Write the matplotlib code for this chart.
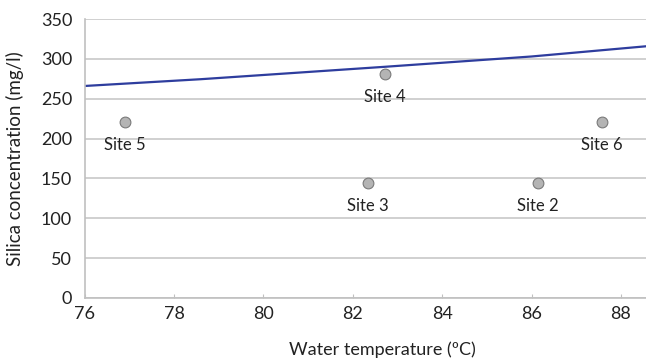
import numpy as np
import matplotlib
matplotlib.use('Agg')
import matplotlib.pyplot as plt

plt.rcParams['font.family'] = ['Lato', 'DejaVu Sans']

# solubility line
line_temp = [76, 78.6, 82.7, 86.0, 88.6]
line_silica = [266, 274.5, 290, 303, 316]

# site measurements
sites = ['Site 5', 'Site 4', 'Site 3', 'Site 2', 'Site 6']
site_temp = [76.9, 82.72, 82.33, 86.15, 87.58]
site_silica = [221, 281, 144, 144, 221]

fig = plt.figure(figsize=(6.46, 3.59), dpi=100)
ax = fig.add_axes([0.131, 0.17, 0.869, 0.777])

ax.set_xlim(76, 88.56)
ax.set_ylim(0, 350)
ax.set_xticks(np.arange(76, 89, 2))
ax.set_yticks(np.arange(0, 351, 50))

ax.grid(axis='y', color='#c8c8c8', linewidth=1.2)
ax.set_axisbelow(True)
for s in ['top', 'right']:
    ax.spines[s].set_visible(False)
for s in ['left', 'bottom']:
    ax.spines[s].set_color('#c0c0c0')
    ax.spines[s].set_linewidth(1.2)
ax.tick_params(axis='y', length=0, labelsize=13, pad=9, labelcolor='#222222')
ax.tick_params(axis='x', direction='in', length=3, color='#c0c0c0', labelsize=13, pad=6,
               labelcolor='#222222')

ax.plot(line_temp, line_silica, color='#2e3d9e', linewidth=1.6)
ax.scatter(site_temp, site_silica, s=60, color='#b4b4b4', edgecolor='#7a7a7a', linewidth=0.8, zorder=3)
for name, x, y in zip(sites, site_temp, site_silica):
    ax.annotate(name, (x, y), xytext=(0, -16.5), textcoords='offset points',
                ha='center', va='center', fontsize=12, color='#222222')

ax.set_xlabel('Water temperature (ºC)', fontsize=13, color='#222222', va='center')
ax.xaxis.set_label_coords(0.53, -0.186)
ax.set_ylabel('Silica concentration (mg/l)', fontsize=13.5, color='#222222', va='center')
ax.yaxis.set_label_coords(-0.124, 0.5)

fig.savefig('out.png', dpi=100)
